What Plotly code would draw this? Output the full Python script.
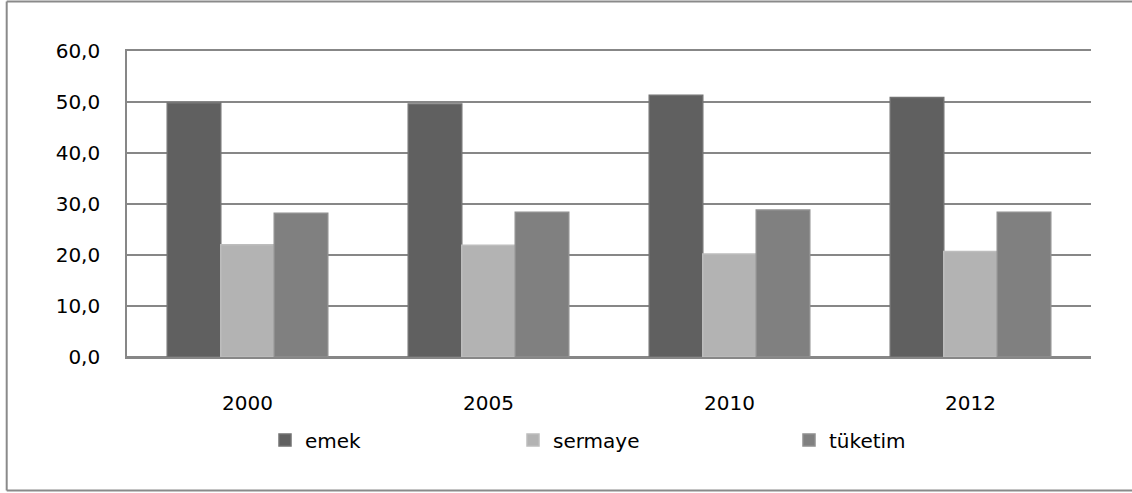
import plotly.graph_objects as go

# Shares by year (%)
years = ["2000", "2005", "2010", "2012"]
emek = [49.8, 49.6, 51.3, 50.9]
sermaye = [22.0, 21.9, 20.2, 20.7]
tuketim = [28.2, 28.4, 28.8, 28.4]

y_ticks = [0, 10, 20, 30, 40, 50, 60]

FONT = "DejaVu Sans"
GRID = "#878787"

series = [
    ("emek", emek, "#606060", "#727272", 203),
    ("sermaye", sermaye, "#b3b3b3", "#bdbdbd", 231),
    ("tüketim", tuketim, "#808080", "#8f8f8f", None),
]

fig = go.Figure()
for name, vals, fill, edge, lw in series:
    kw = {}
    if lw is not None:
        kw["legendwidth"] = lw
    fig.add_trace(go.Bar(
        x=years, y=vals, name=name,
        marker=dict(color=fill, line=dict(color=edge, width=1.5)),
        **kw,
    ))

# plot-area geometry in pixels (used to place the outer frame)
W, H = 1132, 493
L, R, T, B = 127, 41, 51, 136
pw, ph = W - L - R, H - T - B


def px_x(p):
    return (p - L) / pw


def px_y(p):
    return (H - B - p) / ph


# outer chart frame: top, left and bottom edges (right edge falls outside the page)
frame = dict(color="#8a8a8a", width=2)
for x0, y0, x1, y1 in [(6.7, 1.5, 1140, 1.5), (6.7, 1.5, 6.7, 490.5), (6.7, 490.5, 1140, 490.5)]:
    fig.add_shape(type="line", xref="paper", yref="paper",
                  x0=px_x(x0), y0=px_y(y0), x1=px_x(x1), y1=px_y(y1),
                  line=frame, layer="below")

fig.update_layout(
    width=W, height=H,
    margin=dict(l=L, r=R, t=T, b=B, pad=0),
    paper_bgcolor="white", plot_bgcolor="white",
    separators=",.",
    barmode="group", bargap=0.334, bargroupgap=0,
    font=dict(family=FONT, size=20, color="black"),
    showlegend=True,
    legend=dict(
        orientation="h", x=px_x(265), xanchor="left",
        y=px_y(440), yanchor="middle",
        font=dict(family=FONT, size=20, color="black"),
        bgcolor="rgba(0,0,0,0)", borderwidth=0,
        traceorder="normal",
    ),
    xaxis=dict(
        showgrid=False, showline=True, mirror=True,
        linecolor=GRID, linewidth=1.6, zeroline=False,
        ticks="", ticklabelstandoff=27,
        tickfont=dict(family=FONT, size=20, color="black"),
    ),
    yaxis=dict(
        range=[0, 60], tickvals=y_ticks, tickformat=".1f",
        showgrid=True, gridcolor=GRID, gridwidth=1.6,
        showline=True, linecolor=GRID, linewidth=1.6,
        zeroline=True, zerolinecolor=GRID, zerolinewidth=1.6,
        ticks="", ticklabelstandoff=21,
        tickfont=dict(family=FONT, size=20, color="black"),
    ),
)

fig.write_html("out.html")
